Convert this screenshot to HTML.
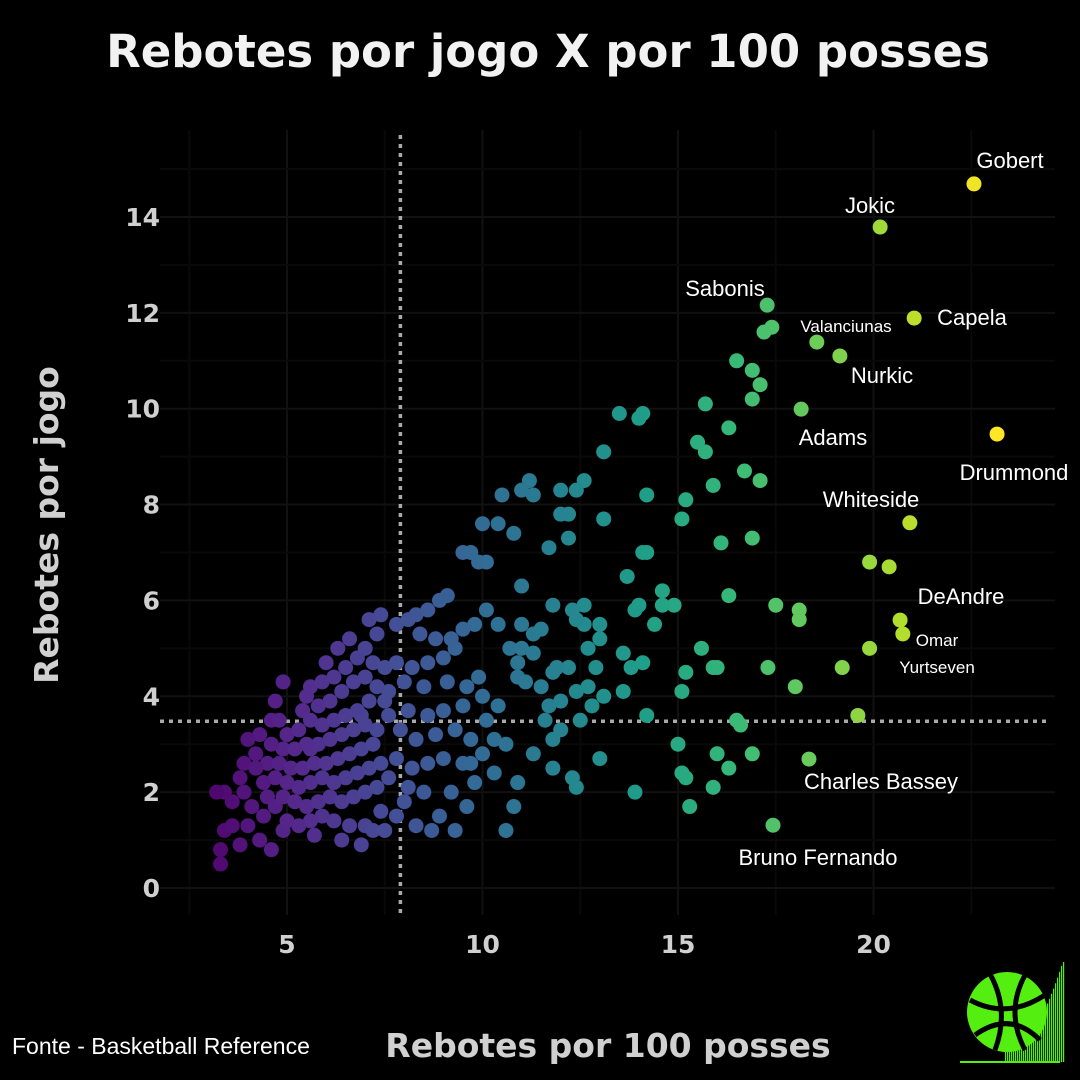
<!DOCTYPE html>
<html><head><meta charset="utf-8">
<style>
body{margin:0;background:#000;width:1080px;height:1080px;overflow:hidden;font-family:"Liberation Sans",sans-serif}
svg{display:block}
.dv{font-family:"DejaVu Sans","Liberation Sans",sans-serif}
</style></head>
<body>
<svg id="chart" width="1080" height="1080" viewBox="0 0 1080 1080">
<rect width="1080" height="1080" fill="#000"/>
<g id="grid"></g>
<g id="refs"></g>
<g id="points"></g>
<g id="labels"></g>
<g id="axes"></g>
<text class="dv" x="548" y="67" text-anchor="middle" font-size="45" font-weight="bold" fill="#f2f2f2">Rebotes por jogo X por 100 posses</text>
<text class="dv" x="608" y="1057" text-anchor="middle" font-size="33" font-weight="bold" fill="#d0d0d0">Rebotes por 100 posses</text>
<text class="dv" transform="translate(58,525) rotate(-90)" text-anchor="middle" font-size="33" font-weight="bold" fill="#d0d0d0">Rebotes por jogo</text>
<text x="12" y="1054" font-size="23" fill="#fff">Fonte - Basketball Reference</text>
<g>
<g id="logobars"></g>
<circle cx="1007" cy="1012" r="40" fill="#55ee11"/>
<path d="M970,1000 Q1007,1020 1045,995 M975,1035 Q1010,1010 1040,1040 M990,974 Q1010,1010 995,1050 M1025,975 Q1005,1012 1025,1050" stroke="#000" stroke-width="5" fill="none"/>
</g>
</svg>
<script>
const xTicks=[5,10,15,20];
const yTicks=[0,2,4,6,8,10,12,14];
const refX=7.9, refY=3.48;
const xs=[22.57,20.17,17.28,21.04,18.55,19.14,18.15,23.16,20.93,20.68,20.75,18.35,17.43,
15.7,16.5,16.9,17.1,16.9,16.3,15.5,15.7,16.7,17.1,15.9,15.2,15.1,16.1,16.9,17.2,17.4,13.5,14,14.1,14.2,14.2,14.1,16.3,17.5,18.1,18.1,15.6,15.9,16,17.3,15.2,15.1,18,19.2,19.9,19.9,20.4,19.6,16.6,16.5,15,16,16.9,16.3,15.1,15.2,15.9,15.3,14.6,14.9,14.2,13.9,
13.1,12.4,12.6,12,11,11.2,11.3,10.5,10.4,10.8,12,12.2,13.1,12.2,11.7,10,9.9,10.1,9.7,9.5,11,13.7,14.6,13.9,14,11.8,12.3,12.4,12.6,12.6,13,13,12.7,13.6,13.8,14.1,14.4,13.6,11.5,11.3,11,11,10.7,10.4,10.1,10.9,11.1,11.5,11.8,11.9,12.2,12.4,12.7,12.9,11.7,11.6,11.8,12,11.3,11.8,12.3,12.4,13,10.9,10.8,10.6,10.3,10.3,10,9.7,10.6,10.1,10.4,10.9,11.3,12,12.5,12.8,13.1,
9.1,8.9,8.6,8.3,8.1,7.8,8.4,8.8,9.2,9.5,9.8,9.3,9.0,8.6,8.2,7.8,7.5,8.0,8.5,9.1,9.6,9.9,10,9.5,9.0,8.6,8.1,7.6,7.9,8.3,8.8,9.3,9.7,9.5,9.0,8.6,8.2,7.8,7.6,8.1,8.5,9.2,9.6,8.9,8.3,7.8,7.5,7.2,8.0,9.8,9.3,8.7,
7.3,7.0,6.8,6.5,6.2,5.9,5.6,5.5,5.8,6.1,6.4,6.7,7,7.3,7.1,6.8,6.5,6.2,5.9,5.6,5.3,5.0,5.2,5.5,5.8,6.1,6.4,6.7,7.0,7.3,7.2,6.9,6.6,6.3,6.0,5.7,5.4,5.1,4.8,5.0,5.3,5.6,5.9,6.2,6.5,6.8,7.1,7.4,7.3,7.0,6.7,6.4,6.1,5.8,5.5,5.2,4.9,4.7,5.0,5.3,5.6,5.9,6.2,6.6,7.0,6.4,6.9,5.7,7.4,7.5,7.6,6.0,6.3,7.1,7.4,6.6,5.4,5.6,6.9,7.2,
3.2,3.4,3.6,3.8,3.9,4.1,4.2,4.4,4.5,4.7,4.0,4.3,4.6,4.9,4.8,4.5,4.0,3.6,3.3,3.3,3.4,3.8,4.3,4.6,4.4,4.9,4.2,3.9,4.7,4.9,4.6];
const ys=[14.69,13.79,12.16,11.89,11.39,11.10,9.99,9.47,7.62,5.59,5.30,2.69,1.31,
10.1,11.0,10.8,10.5,10.2,9.6,9.3,9.1,8.7,8.5,8.4,8.1,7.7,7.2,7.3,11.6,11.7,9.9,9.8,9.9,8.2,7.0,7.0,6.1,5.9,5.8,5.6,5.0,4.6,4.6,4.6,4.5,4.1,4.2,4.6,5.0,6.8,6.7,3.6,3.4,3.5,3.0,2.8,2.8,2.5,2.4,2.3,2.1,1.7,5.9,5.9,3.6,2.0,
9.1,8.3,8.5,8.3,8.3,8.5,8.2,8.2,7.6,7.4,7.8,7.8,7.7,7.3,7.1,7.6,6.8,6.8,7.0,7.0,6.3,6.5,6.2,5.8,5.9,5.9,5.8,5.6,5.5,5.9,5.5,5.2,5.0,4.9,4.6,4.7,5.5,4.1,5.4,5.3,5.5,5.0,5.0,5.5,5.8,4.7,4.3,4.2,4.5,4.6,4.6,4.1,4.2,4.6,3.8,3.5,3.1,3.3,2.8,2.5,2.3,2.1,2.7,2.2,1.7,3.0,3.1,2.4,2.8,2.6,1.2,3.5,3.8,4.4,4.9,3.9,3.5,3.8,4.0,
6.1,6.0,5.8,5.7,5.6,5.5,5.3,5.2,5.2,5.4,5.5,5.0,4.8,4.7,4.6,4.7,4.6,4.3,4.2,4.3,4.2,4.4,4.0,3.8,3.7,3.6,3.7,3.6,3.3,3.1,3.2,3.3,3.1,2.6,2.7,2.6,2.5,2.7,2.3,2.1,2.0,2.0,1.7,1.5,1.3,1.5,1.2,1.2,1.8,2.2,1.2,1.2,
5.3,5.0,4.8,4.6,4.4,4.3,4.2,4.0,3.8,3.9,4.1,4.3,4.4,4.2,3.9,3.7,3.6,3.5,3.4,3.5,3.3,3.2,2.9,3.0,3.0,3.1,3.2,3.3,3.4,3.3,3.0,2.9,2.8,2.7,2.6,2.6,2.5,2.5,2.6,2.2,2.1,2.2,2.3,2.2,2.3,2.4,2.5,2.6,2.1,2.0,1.9,1.8,1.9,1.8,1.7,1.8,1.9,1.7,1.4,1.3,1.4,1.5,1.4,1.3,1.3,1.0,0.9,1.1,1.6,3.9,4.1,4.7,5.0,5.6,5.7,5.2,3.7,2.9,3.6,4.7,
2.0,2.0,1.8,2.3,2.0,1.7,2.5,2.2,1.9,2.3,3.1,3.2,3.0,2.9,3.5,2.6,1.3,1.3,0.8,0.5,1.2,0.9,1.0,0.8,1.5,1.2,2.8,2.6,3.9,4.3,3.5];
const names=["Gobert","Jokic","Sabonis","Capela","Valanciunas","Nurkic","Adams","Drummond","Whiteside","DeAndre","Omar","Charles Bassey","Bruno Fernando"];
const labelPos=[[1010,168,22],[870,213,22],[725,296,22],[972,325,22],[846,332,17],[882,383,22],[833,445,22],[1014,480,22],[871,507,22],[961,604,22],[937,646,17],[937,673,17],[881,789,22],[818,865,22]];
const X=v=>91.5+v*39.1, Y=v=>888-v*47.93;
const ns="http://www.w3.org/2000/svg";
function mk(tag,attrs,parent){const e=document.createElementNS(ns,tag);for(const k in attrs)e.setAttribute(k,attrs[k]);parent.appendChild(e);return e;}
const grid=document.getElementById('grid'),axes=document.getElementById('axes');
for(let v=2.5;v<=22.5;v+=2.5){const l=mk('line',{x1:X(v),x2:X(v),y1:130,y2:915,stroke:v%5===0?'#111':'#090909','stroke-width':2},grid);

}
for(let v=0;v<=15;v+=1){const l=mk('line',{x1:160,x2:1055,y1:Y(v),y2:Y(v),stroke:v%2===0?'#111':'#090909','stroke-width':2},grid);

}
xTicks.forEach(t=>{const e=mk('text',{x:X(t),y:953,'text-anchor':'middle','font-size':25,'font-weight':'bold',fill:'#d0d0d0','class':'dv'},axes);e.textContent=t;

});
yTicks.forEach(t=>{const e=mk('text',{x:160,y:Y(t)+9,'text-anchor':'end','font-size':25,'font-weight':'bold',fill:'#d0d0d0','class':'dv'},axes);e.textContent=t;

});
const refs=document.getElementById('refs');
const rv=mk('line',{x1:X(refX),x2:X(refX),y1:135,y2:918,stroke:'#aaa','stroke-width':3.5,'stroke-dasharray':'4 5'},refs);


const rh=mk('line',{x1:160,x2:1048,y1:Y(refY),y2:Y(refY),stroke:'#aaa','stroke-width':3.5,'stroke-dasharray':'4 5'},refs);


const vir=[[80,5,110],[85,40,140],[70,74,150],[52,104,150],[38,130,145],[31,158,137],[53,183,121],[109,205,89],[180,222,44],[253,231,37]];
function col(v){let t=Math.max(0,Math.min(1,(v-3)/20))*(vir.length-1);const i=Math.min(vir.length-2,Math.floor(t)),f=t-i;const c=vir[i].map((a,k)=>Math.round(a+(vir[i+1][k]-a)*f));return `rgb(${c})`;}
const pts=document.getElementById('points');
for(let i=xs.length-1;i>=0;i--){const c=mk('circle',{cx:X(xs[i]),cy:Y(ys[i]),r:7.5,fill:col(xs[i])},pts);

}
const lab=document.getElementById('labels');
const texts=["Gobert","Jokic","Sabonis","Capela","Valanciunas","Nurkic","Adams","Drummond","Whiteside","DeAndre","Omar","Yurtseven","Charles Bassey","Bruno Fernando"];
texts.forEach((s,i)=>{const p=labelPos[i];const e=mk('text',{x:p[0],y:p[1],'text-anchor':'middle','font-size':p[2],fill:'#fff'},lab);e.textContent=s;

});
const lb=document.getElementById('logobars');
for(let i=0;i<30;i++){const h=Math.min(100,10+i*i*0.11);mk('rect',{x:1005+i*2,y:1062-h,width:1.2,height:h,fill:'#55ee11'},lb);}
mk('rect',{x:960,y:1061,width:100,height:2,fill:'#55ee11'},lb);
</script>
</body></html>
